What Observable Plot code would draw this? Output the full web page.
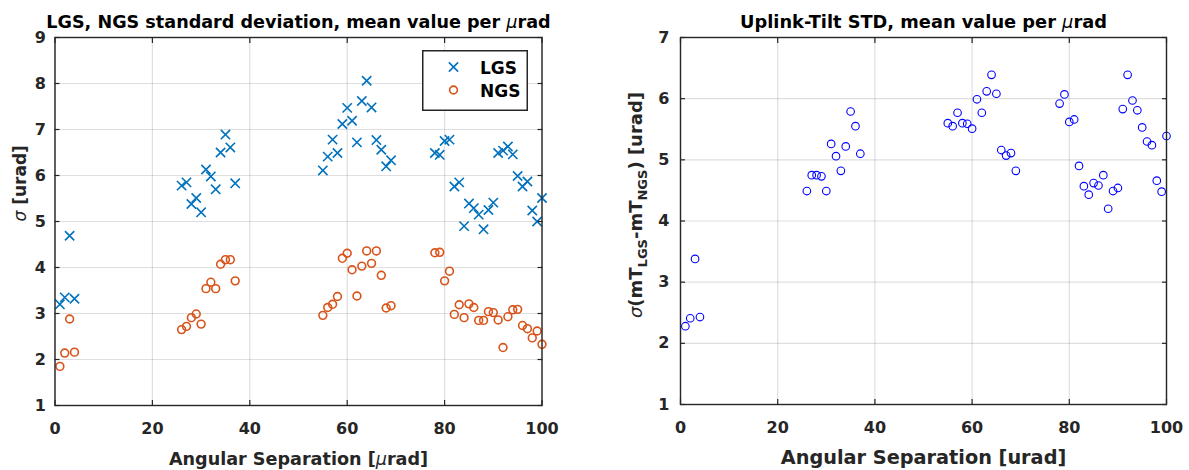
<!DOCTYPE html>
<html><head><meta charset="utf-8">
<script src="https://cdn.jsdelivr.net/npm/d3@7"></script>
<script src="https://cdn.jsdelivr.net/npm/@observablehq/plot@0.6"></script>
<style>
body{margin:0;background:#fff;}
#wrap{position:relative;width:1189px;height:470px;overflow:hidden;background:#fff;}
#wrap > svg{position:absolute;top:0;}
</style></head><body><div id="wrap"></div>
<script>
// ---- data ----
const separation = [1,2,3,4,
  26,27,28,29,30,31,32,33,34,35,36,37,
  55,56,57,58,59,60,61,62,63,64,65,66,67,68,69,
  78,79,80,81,82,83,84,85,86,87,88,89,90,91,92,93,94,95,96,97,98,99,100];
const lgsStd = [3.20,3.35,4.69,3.32,
  5.78,5.85,5.38,5.51,5.20,6.13,5.98,5.70,6.50,6.89,6.61,5.83,
  6.11,6.41,6.78,6.49,7.12,7.47,7.19,6.72,7.62,8.06,7.48,6.77,6.56,6.20,6.33,
  6.49,6.45,6.75,6.78,5.76,5.85,4.90,5.39,5.29,5.15,4.83,5.25,5.41,6.49,6.54,6.63,6.46,5.99,5.76,5.87,5.24,5.00,5.51];
const ngsStd = [1.85,2.14,2.88,2.16,
  2.65,2.72,2.91,2.99,2.77,3.54,3.68,3.54,4.07,4.17,4.17,3.71,
  2.96,3.13,3.20,3.37,4.20,4.31,3.95,3.38,4.03,4.36,4.09,4.36,3.83,3.12,3.17,
  4.32,4.33,3.71,3.92,2.98,3.19,2.91,3.21,3.13,2.85,2.85,3.04,3.02,2.86,2.26,2.93,3.08,3.09,2.74,2.67,2.47,2.62,2.33];
const uplinkStd = [2.28,2.41,3.38,2.43,
  4.49,4.75,4.75,4.73,4.49,5.26,5.06,4.82,5.22,5.79,5.55,5.10,
  5.60,5.55,5.77,5.60,5.59,5.51,5.99,5.77,6.12,6.39,6.08,5.16,5.07,5.11,4.82,
  5.92,6.07,5.62,5.66,4.90,4.57,4.43,4.62,4.58,4.75,4.20,4.49,4.54,5.83,6.39,5.97,5.81,5.53,5.30,5.24,4.66,4.48,5.39];
const xTicks = [0,20,40,60,80,100];
const yTicksLeft = [1,2,3,4,5,6,7,8,9];
const yTicksRight = [1,2,3,4,5,6,7];
const seriesNames = ["LGS","NGS"];
const leftTitle = "LGS, NGS standard deviation, mean value per μrad";
const rightTitle = "Uplink-Tilt STD, mean value per μrad";
const leftXLabel = "Angular Separation [μrad]";
const rightXLabel = "Angular Separation [urad]";
const leftYLabel = "σ [urad]";
const rightYLabel = "σ(mTLGS-mTNGS) [urad]";

const INK = "#262626";
const FONT = "DejaVu Sans";

function frameMarks(yTicks) {
  return [
    Plot.gridX(xTicks, {stroke: INK, strokeOpacity: 0.15, strokeWidth: 1.2}),
    Plot.gridY(yTicks, {stroke: INK, strokeOpacity: 0.15, strokeWidth: 1.2}),
  ];
}
function axesMarks(yTicks, o) {
  const tick = {tickSize: 5, fill: "none", stroke: INK, strokeWidth: 1.2, label: null};
  const txt = {tickSize: 0, fill: INK, fontSize: 16, fontWeight: "bold", label: null, tickFormat: d => `${d}`};
  return [
    Plot.frame({stroke: INK, strokeWidth: 1.4}),
    Plot.axisX(xTicks, {...tick, anchor: "bottom", dy: -5}),
    Plot.axisX(xTicks, {...tick, anchor: "top", dy: 5}),
    Plot.axisY(yTicks, {...tick, anchor: "left", dx: 5}),
    Plot.axisY(yTicks, {...tick, anchor: "right", dx: -5}),
    Plot.axisX(xTicks, {...txt, anchor: "bottom", tickPadding: 17}),
    Plot.axisY(yTicks, {...txt, anchor: "left", tickPadding: o.yPad}),
    Plot.text([o.title], {text: d => d, frameAnchor: "top", lineAnchor: "bottom", dy: -10,
      fontSize: o.titleSize, fontWeight: "bold", fill: "#000"}),
    Plot.text([o.xLabel], {text: d => d, frameAnchor: "bottom", lineAnchor: "bottom", dy: 59,
      fontSize: o.xLabelSize, fontWeight: "bold", fill: INK}),
    Plot.text([o.yLabel], {text: d => d, frameAnchor: "left", rotate: -90, lineAnchor: "middle",
      dx: o.yLabelDx, dy: o.yLabelDy, fontSize: o.yLabelSize, fontWeight: "bold", fill: INK})
  ];
}

function richify(svg, full, parts, recenter) {
  svg.querySelectorAll("text").forEach(t => {
    if (t.textContent !== full) return;
    while (t.firstChild) t.removeChild(t.firstChild);
    for (const p of parts) {
      const ts = document.createElementNS("http://www.w3.org/2000/svg", "tspan");
      ts.textContent = p.t;
      if (p.italic) { ts.setAttribute("font-style", "italic"); ts.setAttribute("font-weight", "normal"); }
      if (p.size) ts.setAttribute("font-size", p.size);
      if (p.sub) ts.setAttribute("baseline-shift", -p.sub);
      t.appendChild(ts);
    }
    if (recenter) {
      t.setAttribute("text-anchor", "start");
      const L = t.getComputedTextLength();
      t.setAttribute("x", -L / 2);
    }
  });
}

const wrap = document.getElementById("wrap");

// ---- left chart ----
const left = Plot.plot({
  width: 590, height: 470,
  marginLeft: 54.5, marginRight: 48.5, marginTop: 37, marginBottom: 65,
  style: {fontFamily: FONT, background: "white", color: INK},
  x: {domain: [0, 100]},
  y: {domain: [1, 9]},
  marks: [
    ...frameMarks(yTicksLeft),
    Plot.dot(separation, {x: separation, y: lgsStd, symbol: "times", r: 4.3, stroke: "#0072BD", strokeWidth: 1.6}),
    Plot.dot(separation, {x: separation, y: ngsStd, symbol: "circle", r: 3.9, stroke: "#D95319", strokeWidth: 1.6, fill: "none"}),
    ...axesMarks(yTicksLeft, {yPad: 9, title: leftTitle, titleSize: 17.6, xLabel: leftXLabel, xLabelSize: 17.6,
      yLabel: leftYLabel, yLabelSize: 17, yLabelDx: -34.5, yLabelDy: 0})
  ]
});
left.style.left = "0px";
wrap.appendChild(left);

// ---- right chart ----
const right = Plot.plot({
  width: 599, height: 470,
  marginLeft: 90, marginRight: 23, marginTop: 37, marginBottom: 66,
  style: {fontFamily: FONT, background: "white", color: INK},
  x: {domain: [0, 100]},
  y: {domain: [1, 7]},
  marks: [
    ...frameMarks(yTicksRight),
    Plot.dot(separation, {x: separation, y: uplinkStd, symbol: "circle", r: 3.8, stroke: "#0000FF", strokeWidth: 1.1, fill: "none"}),
    ...axesMarks(yTicksRight, {yPad: 11, title: rightTitle, titleSize: 17.8, xLabel: rightXLabel, xLabelSize: 19.3,
      yLabel: rightYLabel, yLabelSize: 18, yLabelDx: -44, yLabelDy: -16})
  ]
});
right.style.left = "590px";
wrap.appendChild(right);

// rich text (Greek italics, subscripts)
const mu = (s) => [{t: s.split("μ")[0]}, {t: "μ", italic: true}, {t: s.split("μ")[1]}];
richify(left, leftTitle, mu(leftTitle));
richify(right, rightTitle, mu(rightTitle));
richify(left, leftXLabel, mu(leftXLabel));
richify(left, leftYLabel, [{t: "σ", italic: true}, {t: " [urad]"}]);
richify(right, rightYLabel, [
  {t: "σ", italic: true}, {t: "(mT"}, {t: "LGS", sub: 5, size: 13}, {t: "-mT"},
  {t: "NGS", sub: 5, size: 13}, {t: ") [urad]"}
], true);

// ---- legend (left chart) ----
const NS = "http://www.w3.org/2000/svg";
const leg = document.createElementNS(NS, "svg");
leg.setAttribute("width", 106); leg.setAttribute("height", 61);
leg.style.position = "absolute"; leg.style.left = "421.5px"; leg.style.top = "50px";
const colors = ["#0072BD", "#D95319"];
const symbols = [d3.symbolTimes, d3.symbolCircle];
let html = `<rect x="0.75" y="0.75" width="104.5" height="59.5" fill="white" stroke="${INK}" stroke-width="1.5"/>`;
seriesNames.forEach((name, i) => {
  const cy = 17 + i * 23;
  const path = d3.symbol(symbols[i], i === 0 ? Math.PI * 4.3 * 4.3 : Math.PI * 3.9 * 3.9)();
  html += `<path transform="translate(31.5,${cy})" d="${path}" fill="none" stroke="${colors[i]}" stroke-width="1.6"/>`;
  html += `<text x="58" y="${cy + 6.5}" font-family="${FONT}" font-weight="bold" font-size="17" fill="#000">${name}</text>`;
});
leg.innerHTML = html;
wrap.appendChild(leg);
</script>
</body></html>
